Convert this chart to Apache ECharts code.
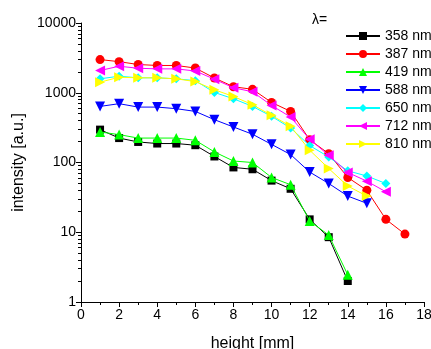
<!DOCTYPE html>
<html>
<head>
<meta charset="utf-8">
<script src="https://cdn.jsdelivr.net/npm/echarts@6/dist/echarts.min.js"></script>
<style>
html,body{margin:0;padding:0;background:#fff;}
#chart{width:431px;height:349px;}
</style>
</head>
<body>
<div id="chart"></div>
<script>
// heights [mm]
const heights = [1,2,3,4,5,6,7,8,9,10,11,12,13,14,15,16,17];
const seriesNames = ['358 nm','387 nm','419 nm','588 nm','650 nm','712 nm','810 nm'];
const s358 = [296, 224, 197, 187, 187, 177, 122, 85, 80, 55, 42, 15.3, 8.5, 2.0];
const s387 = [2990, 2790, 2540, 2460, 2460, 2260, 1630, 1220, 1120, 727, 540, 212, 134, 61, 40, 15.3, 9.4];
const s419 = [274, 251, 224, 224, 224, 208, 142, 105, 100, 61, 48, 14.5, 9.1, 2.45];
const s588 = [637, 697, 623, 623, 591, 540, 411, 323, 254, 182, 130, 73, 50, 33, 26];
const s650 = [1585, 1727, 1637, 1637, 1585, 1490, 1010, 820, 637, 459, 312, 175, 120, 76, 64, 50];
const s712 = [2083, 2400, 2245, 2200, 2200, 2050, 1565, 1180, 1033, 658, 448, 215, 127, 72, 54, 38];
const s810 = [1416, 1670, 1637, 1637, 1585, 1445, 1104, 885, 674, 474, 330, 150, 82, 46, 33];
const yTickLabels = [1, 10, 100, 1000, 10000];
const xTickLabels = [0, 2, 4, 6, 8, 10, 12, 14, 16, 18];

const allValues = [s358, s387, s419, s588, s650, s712, s810];
const colors = ['#000000','#ff0000','#00ff00','#0000ff','#00ffff','#ff00ff','#ffff00'];
const symbols = ['rect','circle','triangle','triangle','diamond','triangle','triangle'];
const rotations = [0, 0, 0, 180, 0, 90, -90];
const sizes = [8, 9, 10, 10, 9, 10, 10];

const minorVals = [];
for (let d = 1; d < 10000; d *= 10) {
  for (let k = 2; k <= 9; k++) minorVals.push(d * k);
}

const font = '"Liberation Sans", Arial, sans-serif';
const chart = echarts.init(document.getElementById('chart'), null, {renderer: 'canvas'});

const series = allValues.map((vals, i) => ({
  name: seriesNames[i],
  type: 'line',
  data: vals.map((v, j) => [heights[j], v]),
  symbol: symbols[i],
  symbolSize: sizes[i],
  symbolRotate: rotations[i],
  showAllSymbol: true,
  lineStyle: {color: colors[i], width: 1},
  itemStyle: {color: colors[i]},
  emphasis: {disabled: true},
  animation: false,
  z: 2 + i
}));

chart.setOption({
  animation: false,
  backgroundColor: '#ffffff',
  title: {
    text: 'λ=',
    left: 307, top: 8,
    textStyle: {fontFamily: font, fontSize: 14, fontWeight: 'normal', color: '#000'}
  },
  legend: {
    orient: 'vertical',
    left: 345, top: 29,
    padding: 0,
    itemWidth: 34, itemHeight: 10, itemGap: 4,
    symbolRotate: 'inherit',
    textStyle: {fontFamily: font, fontSize: 14, color: '#000', lineHeight: 14},
    data: seriesNames
  },
  grid: {left: 81, right: 7, top: 23, bottom: 47, containLabel: false, outerBoundsMode: 'none'},
  xAxis: {
    type: 'value',
    min: 0, max: 18, interval: 2,
    name: 'height [mm]',
    nameLocation: 'middle',
    nameGap: 34,
    nameTextStyle: {fontFamily: font, fontSize: 16, color: '#000'},
    axisLine: {show: true, onZero: false, lineStyle: {color: '#000', width: 1}},
    axisTick: {show: true, inside: false, length: 5, lineStyle: {color: '#000'}},
    minorTick: {show: true, splitNumber: 2, length: 3, lineStyle: {color: '#000'}},
    axisLabel: {fontFamily: font, fontSize: 14, color: '#000', margin: 6,
      formatter: v => (xTickLabels.indexOf(v) >= 0 ? String(v) : '')},
    splitLine: {show: false}
  },
  yAxis: [{
    type: 'log',
    logBase: 10,
    min: 1, max: 10000,
    name: 'intensity [a.u.]',
    nameLocation: 'middle',
    nameGap: 50,
    nameTextStyle: {fontFamily: font, fontSize: 16, color: '#000'},
    axisLine: {show: true, onZero: false, lineStyle: {color: '#000', width: 1}},
    axisTick: {show: true, inside: false, length: 5, lineStyle: {color: '#000'}},
    axisLabel: {fontFamily: font, fontSize: 14, color: '#000', margin: 5,
      formatter: v => (yTickLabels.indexOf(Math.round(v)) >= 0 ? String(Math.round(v)) : '')},
    splitLine: {show: false}
  }, {
    type: 'log',
    logBase: 10,
    min: 1, max: 10000,
    position: 'left',
    axisLine: {show: false},
    axisTick: {show: true, inside: false, length: 3, customValues: minorVals, lineStyle: {color: '#000'}},
    axisLabel: {show: false},
    splitLine: {show: false}
  }],
  series: series
});
</script>
</body>
</html>
